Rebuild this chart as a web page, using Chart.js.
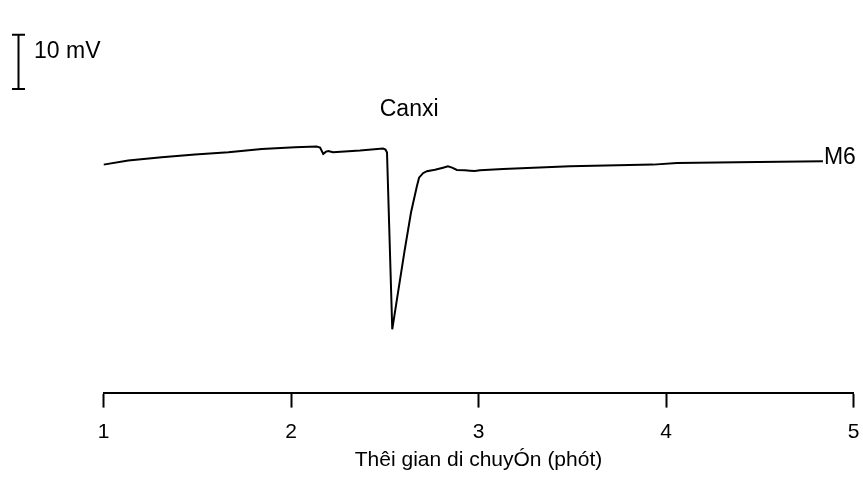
<!DOCTYPE html>
<html>
<head>
<meta charset="utf-8">
<script src="https://cdn.jsdelivr.net/npm/chart.js@4.4.1/dist/chart.umd.min.js"></script>
<style>
  html, body { margin: 0; padding: 0; background: #fff; }
  #wrap { width: 863px; height: 480px; }
</style>
</head>
<body>
<div id="wrap"><canvas id="c" width="863" height="480"></canvas></div>
<script>
// Migration time (minutes)
const timeMin = [1.000, 1.132, 1.310, 1.488, 1.666, 1.844, 2.021, 2.137, 2.155, 2.172, 2.187, 2.199, 2.224, 2.368, 2.491, 2.504, 2.512, 2.540, 2.570, 2.605, 2.640, 2.672, 2.683, 2.704, 2.725, 2.768, 2.811, 2.837, 2.859, 2.885, 2.927, 2.955, 2.980, 3.008, 3.131, 3.488, 3.931, 4.059, 4.379, 4.837];
// Detector signal (mV)
const signalMV = [42.04, 42.78, 43.39, 43.89, 44.31, 44.94, 45.24, 45.37, 45.19, 44.02, 44.44, 44.54, 44.31, 44.63, 45.00, 44.81, 44.26, 11.67, 18.30, 26.00, 33.20, 38.15, 39.63, 40.46, 40.83, 41.11, 41.48, 41.72, 41.48, 41.06, 41.02, 40.93, 40.85, 41.02, 41.24, 41.72, 42.04, 42.35, 42.46, 42.65];
const xTicks = [1, 2, 3, 4, 5];
const peakLabel = "Canxi";
const peakTime = 2.63;
const peakLabelMV = 52.1;
const seriesLabel = "M6";
const scaleBarBaseMV = 56;
const scaleBarMV = 10;
const scaleBarText = "10 mV";
const xTitle = "Thêi gian di chuyÓn (phót)";

const FONT = "'Liberation Sans', Arial, sans-serif";

const points = timeMin.map((t, i) => ({ x: t, y: signalMV[i] }));

const annotations = {
  id: 'annotations',
  afterDraw(chart) {
    const ctx = chart.ctx;
    const xs = chart.scales.x, ys = chart.scales.y;
    ctx.save();
    ctx.fillStyle = '#000';
    ctx.strokeStyle = '#000';
    ctx.lineWidth = 2;
    // scale bar
    const yTop = ys.getPixelForValue(scaleBarBaseMV + scaleBarMV);
    const yBot = ys.getPixelForValue(scaleBarBaseMV);
    const bx = 18.5;
    ctx.beginPath();
    ctx.moveTo(bx, yTop); ctx.lineTo(bx, yBot);
    ctx.moveTo(bx - 6.5, yTop); ctx.lineTo(bx + 6.5, yTop);
    ctx.moveTo(bx - 6.5, yBot); ctx.lineTo(bx + 6.5, yBot);
    ctx.stroke();
    ctx.font = '23px ' + FONT;
    ctx.textAlign = 'left';
    ctx.textBaseline = 'middle';
    ctx.fillText(scaleBarText, 34, (yTop + yBot) / 2 - 10);
    // peak label
    ctx.textAlign = 'center';
    ctx.fillText(peakLabel, xs.getPixelForValue(peakTime), ys.getPixelForValue(peakLabelMV));
    // series label at end of trace
    const last = points[points.length - 1];
    ctx.textAlign = 'left';
    ctx.fillText(seriesLabel, xs.getPixelForValue(last.x) + 1, ys.getPixelForValue(last.y) - 4);
    ctx.restore();
  }
};

new Chart(document.getElementById('c'), {
  type: 'line',
  data: {
    datasets: [{
      data: points,
      borderColor: '#000',
      borderWidth: 2,
      pointRadius: 0,
      tension: 0,
      fill: false
    }]
  },
  options: {
    responsive: false,
    animation: false,
    devicePixelRatio: 1,
    layout: { padding: { left: 103.5, right: 9.5, top: 13, bottom: 3 } },
    plugins: { legend: { display: false }, tooltip: { enabled: false } },
    scales: {
      x: {
        type: 'linear',
        min: 1, max: 5,
        afterBuildTicks(scale) { scale.ticks = xTicks.map(v => ({ value: v })); },
        afterFit(scale) { scale.paddingLeft = 0; scale.paddingRight = 0; },
        border: { display: true, color: '#000', width: 2 },
        grid: { drawOnChartArea: false, drawTicks: true, tickLength: 15, tickWidth: 2, tickColor: '#000' },
        ticks: { color: '#000', font: { family: FONT, size: 21 }, padding: 12, maxRotation: 0 },
        title: { display: true, text: xTitle, color: '#000', font: { family: FONT, size: 21 }, padding: { top: -9, bottom: 4 } }
      },
      y: {
        display: false,
        min: 0, max: 70
      }
    }
  },
  plugins: [annotations]
});
</script>
</body>
</html>
